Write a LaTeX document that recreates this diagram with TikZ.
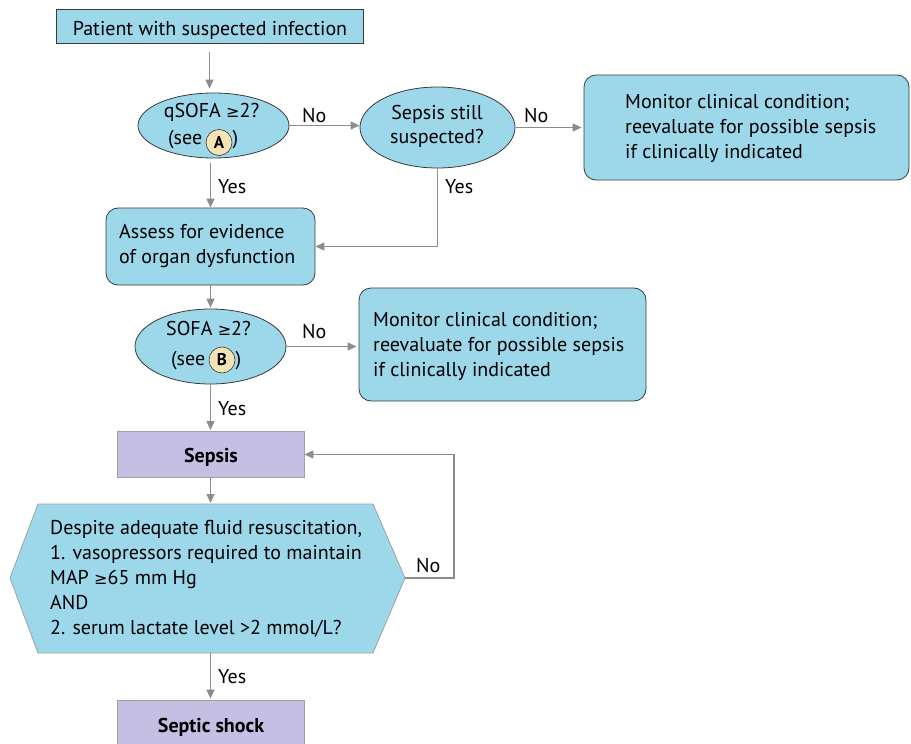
\documentclass[tikz,border=0pt]{standalone}
\usepackage{fontspec}
\setmainfont{PT Sans}
\newfontfamily\symf{DejaVu Sans}
\newcommand{\gesym}{{\symf\fontsize{16}{16}\selectfont ≥}}
\usetikzlibrary{shapes.geometric,arrows.meta,calc}
\definecolor{boxblue}{HTML}{9DD8EA}
\definecolor{boxpurple}{HTML}{C5BFE4}
\definecolor{circfill}{HTML}{F3E3B5}
\definecolor{edgegray}{HTML}{8C8C8C}
\definecolor{bordark}{HTML}{3A3A3A}
\definecolor{borlight}{HTML}{A0A0A0}
\begin{document}
\begin{tikzpicture}[x=1pt,y=-1pt,font=\fontsize{20}{25}\selectfont,
  bluebox/.style={draw=bordark,fill=boxblue,line width=0.8pt,inner sep=0pt},
  roundbox/.style={bluebox,rounded corners=12pt},
  decide/.style={ellipse,draw=bordark,fill=boxblue,line width=0.8pt,inner sep=0pt},
  purplebox/.style={draw=borlight,fill=boxpurple,line width=0.8pt,inner sep=0pt},
  flow/.style={draw=edgegray,line width=1.2pt,-{Triangle[length=9pt,width=8pt]}},
  lbl/.style={anchor=base west,inner sep=0pt},
  txt/.style={inner sep=0pt},
  letter/.style={circle,draw=bordark,fill=circfill,line width=0.6pt,minimum size=26pt,inner sep=0pt,font=\fontsize{17}{17}\selectfont\bfseries}]
\useasboundingbox (0,0) rectangle (911,744);

% nodes
\node[bluebox,minimum width=307pt,minimum height=34pt] (top) at (209.5,26) {};
\node[txt,anchor=base] (topt) at (210,35) {Patient with suspected infection};

\node[decide,minimum width=151pt,minimum height=65pt] (q) at (213.5,125.5) {};
\node[txt,anchor=base] (qt) at (211.5,117) {qSOFA \gesym2?};
\node[letter] (ca) at (219,142.5) {A};
\node[txt,anchor=base east] (qsee) at (ca.west |- 0,144) {(see\,};
\node[txt,anchor=base west] (qpar) at (ca.east |- 0,144) {)};

\node[decide,minimum width=155pt,minimum height=81pt] (s) at (437.5,127.5) {};
\node[txt,anchor=base] (st1) at (437,119) {Sepsis still};
\node[txt,anchor=base] (st2) at (437,143) {suspected?};

\node[roundbox,minimum width=325pt,minimum height=105pt] (m1) at (746.5,127.5) {};
\node[txt,anchor=west,align=left] (m1t) at (625,128) {Monitor clinical condition;\\reevaluate for possible sepsis\\if clinically indicated};

\node[roundbox,minimum width=209pt,minimum height=77pt] (as) at (210.5,246.5) {};
\node[txt,anchor=west,align=left] (ast) at (119,246) {Assess for evidence\\of organ dysfunction};

\node[decide,minimum width=151pt,minimum height=75pt] (so) at (210.5,346.5) {};
\node[txt,anchor=base] (sot) at (208.5,335) {SOFA \gesym2?};
\node[letter] (cb) at (222,360) {B};
\node[txt,anchor=base east] (sosee) at (cb.west |- 0,365) {(see\,};
\node[txt,anchor=base west] (sopar) at (cb.east |- 0,365) {)};

\node[roundbox,minimum width=287pt,minimum height=113pt] (m2) at (502.5,344.5) {};
\node[txt,anchor=west,align=left] (m2t) at (373,346) {Monitor clinical condition;\\reevaluate for possible sepsis\\if clinically indicated};

\node[purplebox,minimum width=187pt,minimum height=46pt] (sep) at (210.5,454.5) {};
\node[txt,anchor=base] (sept) at (211,462) {\bfseries Sepsis};

\draw[draw=borlight,fill=boxblue,line width=0.8pt] (10,578) -- (38,504) -- (373,504) -- (405,578) -- (373,653) -- (38,653) -- cycle;
\coordinate (hexR) at (405,578);
\coordinate (hexT) at (210.5,504);
\coordinate (hexB) at (210.5,653);
\node[txt,anchor=west,align=left] (hext) at (50,579) {Despite adequate fluid resuscitation,\\1. vasopressors required to maintain\\MAP \gesym65 mm Hg\\AND\\2. serum lactate level >2 mmol/L?};

\node[purplebox,minimum width=187pt,minimum height=46pt] (shock) at (210.5,723) {};
\node[txt,anchor=base] (shockt) at (211,732) {\bfseries Septic shock};

% connectors
\draw[flow,shorten <=9pt,shorten >=4pt] (top.south) -- (top.south |- q.north);
\draw[flow] (q.east) -- (q.east -| s.west);
\draw[flow,shorten <=5pt] (q.south -| as.north) -- (as.north);
\draw[flow] (s.south) |- (as.east);
\draw[flow,shorten >=2pt] (s.east) -- (s.east -| m1.west);
\draw[flow,shorten >=1pt] (as.south) -- (so.north);
\draw[flow,shorten >=2pt] (so.east) -- (so.east -| m2.west);
\draw[flow,shorten >=1pt] (so.south) -- (sep.north);
\draw[flow,shorten >=1pt] (sep.south) -- (hexT);
\draw[flow] (hexR) -- ++(49,0) |- (sep.east);
\draw[flow,shorten >=1pt] (hexB) -- (shock.north);

% labels
\node[lbl] (l1) at (302,122) {No};
\node[lbl] (l2) at (524,122) {No};
\node[lbl] (l3) at (218,193) {Yes};
\node[lbl] (l4) at (445,193) {Yes};
\node[lbl] (l5) at (302,338) {No};
\node[lbl] (l6) at (218,415) {Yes};
\node[lbl] (l7) at (416,572) {No};
\node[lbl] (l8) at (218,683) {Yes};
\end{tikzpicture}
\end{document}
